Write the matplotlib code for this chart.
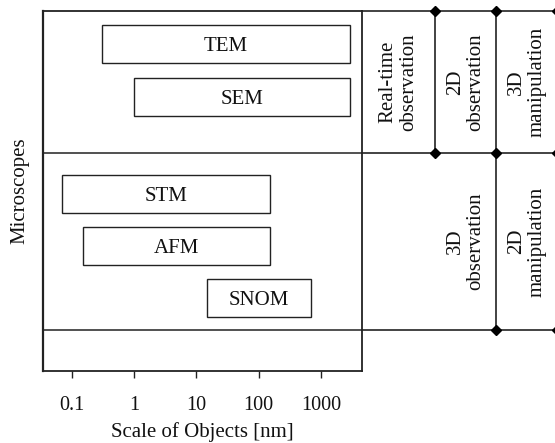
import matplotlib
matplotlib.use("Agg")
import matplotlib.pyplot as plt
import matplotlib.transforms as mtransforms
import numpy as np

# ---- data ----
microscopes = ["TEM", "SEM", "STM", "AFM", "SNOM"]
scale_min = [0.3, 1.0, 0.07, 0.15, 15]      # nm
scale_max = [3000, 3000, 150, 150, 700]     # nm
tick_values = [0.1, 1, 10, 100, 1000]
tick_labels = ["0.1", "1", "10", "100", "1000"]
top_group_text = ["Real-time\nobservation", "2D\nobservation", "3D\nmanipulation"]
bottom_group_text = ["3D\nobservation", "2D\nmanipulation"]

plt.rcParams['font.family'] = ['Liberation Serif', 'DejaVu Serif']

W, H = 555, 443
fig = plt.figure(figsize=(W / 100, H / 100), dpi=100)

# layout in pixel-like units (from top of the box)
box_left, box_right, box_top, box_bottom = 43, 362, 11, 371
box_h = box_bottom - box_top
bar_h = 38
bar_centers = [33, 86, 183, 235, 287]
sep1, sep2 = 142, 319

ax = fig.add_axes([box_left / W, (H - box_bottom) / H,
                   (box_right - box_left) / W, box_h / H])
ax.set_xscale('log')
ax.set_xlim(0.034, 4600)
ax.set_ylim(box_h, 0)

widths = [b - a for a, b in zip(scale_min, scale_max)]
ax.barh(bar_centers, widths, left=scale_min, height=bar_h,
        facecolor='white', edgecolor='#222222', linewidth=1.0)
txt_tr = mtransforms.offset_copy(ax.transData, fig=fig, y=-5, units='points')
for name, a, b, yc in zip(microscopes, scale_min, scale_max, bar_centers):
    ax.text(np.sqrt(a * b), yc, name, ha='center', va='baseline', fontsize=15,
            transform=txt_tr, color='#111111')

for ys in (sep1, sep2):
    ax.axhline(ys, color='#333333', lw=1.2)

ax.set_xticks(tick_values)
ax.set_xticklabels(tick_labels, fontsize=14.5, color='#111111')
ax.xaxis.set_minor_locator(matplotlib.ticker.NullLocator())
ax.tick_params(axis='x', direction='out', length=5, width=1, pad=13, color='#222222')
ax.set_yticks([])
for s in ax.spines.values():
    s.set_color('#222222')
    s.set_linewidth(1.3)
ax.spines['left'].set_linewidth(1.6)
ax.set_xlabel("Scale of Objects [nm]", fontsize=15, labelpad=5, color='#111111')
ax.set_ylabel("Microscopes", fontsize=15, labelpad=10, color='#111111')

# ---- right-hand table ----
tab_right = 560
ax2 = fig.add_axes([box_right / W, (H - box_bottom) / H,
                    (tab_right - box_right) / W, box_h / H])
ax2.set_xlim(0, tab_right - box_right)
ax2.set_ylim(box_h, 0)
ax2.axis('off')
col_edges = [0, 73, 134, 195]
lc = '#222222'
for ys in (0, sep1, sep2):
    ax2.plot([0, tab_right - box_right], [ys, ys], color=lc, lw=1.2, clip_on=False)
ax2.plot([col_edges[1]] * 2, [0, sep1], color=lc, lw=1.2, clip_on=False)
ax2.plot([col_edges[2]] * 2, [0, sep2], color=lc, lw=1.2, clip_on=False)
ax2.plot([col_edges[3]] * 2, [0, sep2], color=lc, lw=1.2, clip_on=False)

dx = [col_edges[1], col_edges[2], col_edges[3], col_edges[1], col_edges[2], col_edges[3],
      col_edges[2], col_edges[3]]
dy = [0, 0, 0, sep1, sep1, sep1, sep2, sep2]
ax2.plot(dx, dy, linestyle='none', marker='D', markersize=5, color='black', clip_on=False)

top_centers = [(col_edges[i] + col_edges[i + 1]) / 2 for i in range(3)]
for t, xc in zip(top_group_text, top_centers):
    ax2.text(xc, sep1 / 2, t, rotation=90, ha='center', va='center',
             multialignment='center', fontsize=15, linespacing=1.1, color='#111111')
bottom_centers = [top_centers[1], top_centers[2]]
for t, xc in zip(bottom_group_text, bottom_centers):
    ax2.text(xc, (sep1 + sep2) / 2, t, rotation=90, ha='center', va='center',
             multialignment='center', fontsize=15, linespacing=1.1, color='#111111')

fig.savefig("out.png", dpi=100)
